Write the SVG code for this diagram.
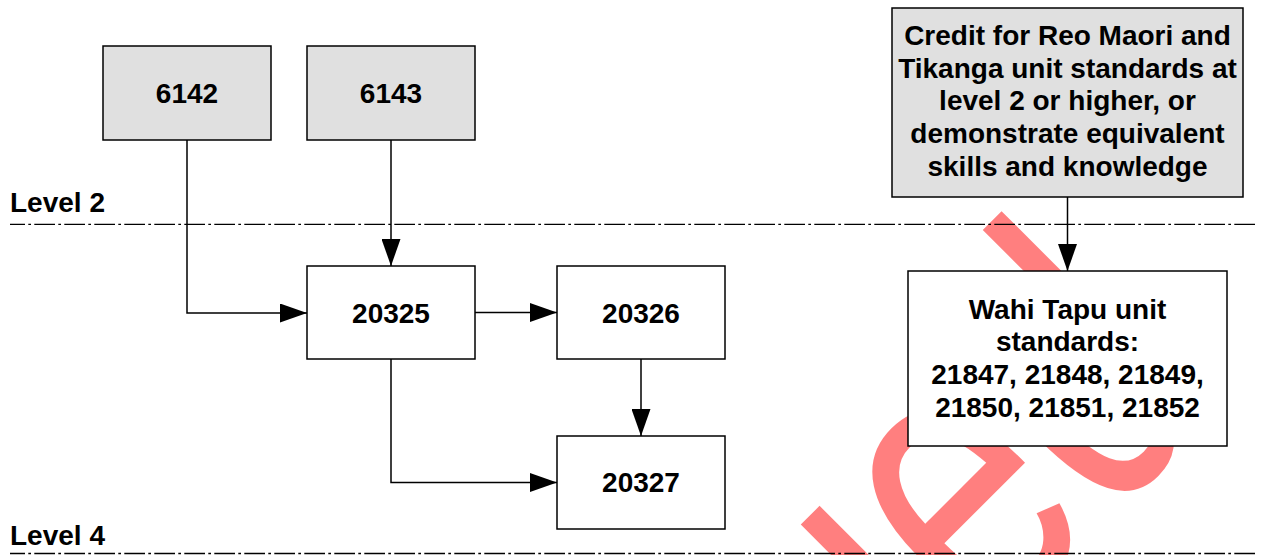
<svg xmlns="http://www.w3.org/2000/svg" width="1271" height="555" viewBox="0 0 1271 555">
<style>
  .box { stroke: #000; stroke-width: 1.5; }
  .grey { fill: #e0e0e0; }
  .white { fill: #ffffff; }
  .lbl { font-family: "Liberation Sans", Arial, sans-serif; font-weight: bold; font-size: 28px; fill: #000; text-anchor: middle; }
  .lvl { font-family: "Liberation Sans", Arial, sans-serif; font-weight: bold; font-size: 28px; fill: #000; }
  .conn { fill: none; stroke: #000; stroke-width: 1.5; }
  .level { fill: none; stroke: #000; stroke-width: 1.3; stroke-dasharray: 20.7 3.3 2.7 3.3; stroke-dashoffset: 5.7; }
  .wm { font-family: "Liberation Sans", Arial, sans-serif; font-size: 302.5px; fill: #ff0000; fill-opacity: 0.5; }
</style>
<defs>
  <marker id="arrow" markerUnits="userSpaceOnUse" markerWidth="27" markerHeight="19" refX="27" refY="9.5" orient="auto">
    <path d="M0,0 L27,9.5 L0,19 Z" fill="#000"/>
  </marker>
</defs>
<rect x="0" y="0" width="1271" height="555" fill="#ffffff"/>
<g id="watermark">
  <text class="wm" transform="translate(867.1,761.6) rotate(-45) scale(1,1.342)" x="0" y="0">ued</text>
</g>
<g id="levels">
  <path class="level" d="M10,224.3 H1257"/>
  <path class="level" d="M10,553.5 H1257"/>
  <text class="lvl" x="10" y="212">Level 2</text>
  <text class="lvl" x="10" y="545">Level 4</text>
</g>
<g id="connectors">
  <path class="conn" d="M187,140 V313 H307" marker-end="url(#arrow)"/>
  <path class="conn" d="M391,140 V266" marker-end="url(#arrow)"/>
  <path class="conn" d="M475,312.5 H557" marker-end="url(#arrow)"/>
  <path class="conn" d="M641,359 V436" marker-end="url(#arrow)"/>
  <path class="conn" d="M391,359 V482.5 H557" marker-end="url(#arrow)"/>
  <path class="conn" d="M1067.5,197 V271" marker-end="url(#arrow)"/>
</g>
<g id="n6142">
  <rect class="box grey" x="103" y="46" width="168" height="94"/>
  <text class="lbl" x="187" y="103">6142</text>
</g>
<g id="n6143">
  <rect class="box grey" x="307" y="46" width="168" height="94"/>
  <text class="lbl" x="391" y="103">6143</text>
</g>
<g id="n20325">
  <rect class="box white" x="307" y="266" width="168" height="93"/>
  <text class="lbl" x="391" y="322.5">20325</text>
</g>
<g id="n20326">
  <rect class="box white" x="557" y="266" width="168" height="93"/>
  <text class="lbl" x="641" y="322.5">20326</text>
</g>
<g id="n20327">
  <rect class="box white" x="557" y="436" width="168" height="93"/>
  <text class="lbl" x="641" y="492">20327</text>
</g>
<g id="credit">
  <rect class="box grey" x="892" y="8" width="351" height="189"/>
  <text class="lbl" x="1067.5" y="45">Credit for Reo Maori and</text>
  <text class="lbl" x="1067.5" y="77.7">Tikanga unit standards at</text>
  <text class="lbl" x="1067.5" y="110.4">level 2 or higher, or</text>
  <text class="lbl" x="1067.5" y="143">demonstrate equivalent</text>
  <text class="lbl" x="1067.5" y="175.7">skills and knowledge</text>
</g>
<g id="wahi">
  <rect class="box white" x="908" y="271" width="319" height="175"/>
  <text class="lbl" x="1067.5" y="318.5">Wahi Tapu unit</text>
  <text class="lbl" x="1067.5" y="351.3">standards:</text>
  <text class="lbl" x="1067.5" y="384">21847, 21848, 21849,</text>
  <text class="lbl" x="1067.5" y="416.8">21850, 21851, 21852</text>
</g>
</svg>
